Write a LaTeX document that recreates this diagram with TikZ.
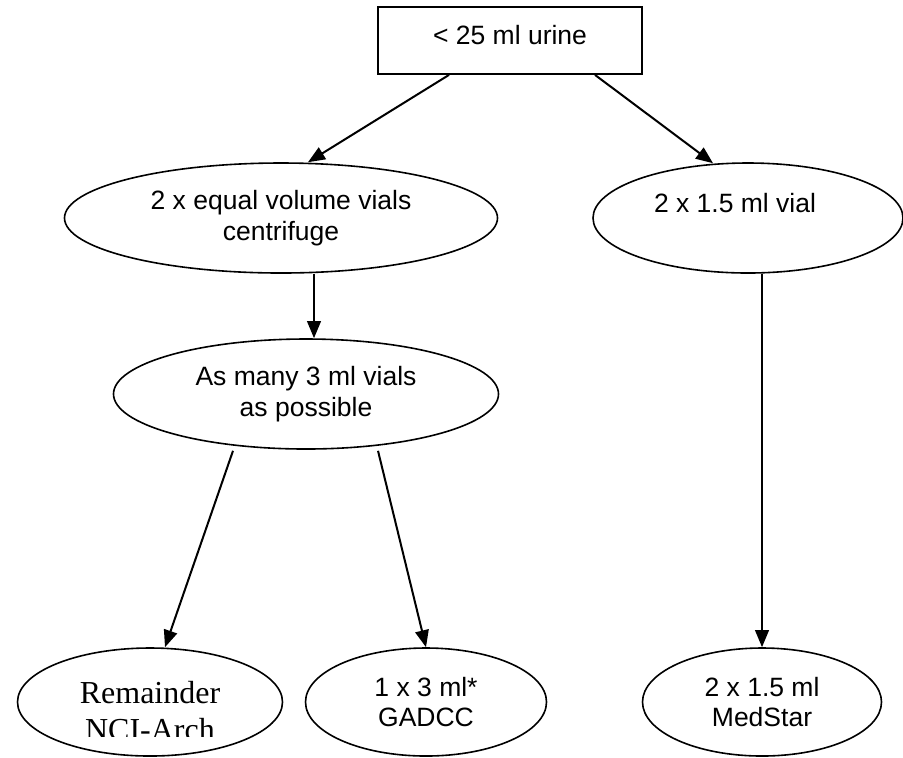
\documentclass[tikz,border=0pt]{standalone}
\usepackage{fontspec}
\setmainfont{Liberation Sans}
\newfontfamily\timesfont{Liberation Serif}
\usetikzlibrary{shapes.geometric,arrows.meta,calc}
\tikzset{
  oval/.style={draw,ellipse,line width=0.8pt,inner sep=0pt,minimum height=55pt,align=center,font=\fontsize{13.25}{15.3}\selectfont},
  flow/.style={line width=1pt,-{Triangle[length=8.5pt,width=6.8pt]}}
}

\begin{document}
\begin{tikzpicture}[x=0.5pt,y=-0.5pt]
\useasboundingbox (0,0) rectangle (903,757);
\node[draw,line width=0.9pt,minimum width=132pt,inner xsep=0pt,inner ysep=0pt,text height=18.7pt,text depth=14.8pt,font=\fontsize{13.25}{15.3}\selectfont] (urine) at (510,40.5) {< 25 ml urine};
\node[oval,minimum width=216.5pt] (split) at (281,218) {2 x equal volume vials\\centrifuge};
\node[oval,minimum width=155pt] (vial) at (748,218) {2 x 1.5 ml vial\hspace*{13pt}\\\phantom{2}};
\node[oval,minimum width=192.5pt] (many) at (306,394) {As many 3 ml vials\\as possible};
\node[oval,minimum width=132.5pt,minimum height=54pt] (remainder) at (150,702) {};
\node[oval,minimum width=120.5pt,minimum height=54pt] (gadcc) at (426,702) {1 x 3 ml*\\GADCC};
\node[oval,minimum width=119.5pt,minimum height=54pt] (medstar) at (762,702) {2 x 1.5 ml\\MedStar};
% serif label, cut off at the bottom as in the source
\begin{scope}
\clip (30,600) rectangle (270,736);
\node[anchor=north,inner sep=0pt,align=center,font=\timesfont\fontsize{16}{18.5}\selectfont] (remText) at (150,681) {Remainder\\NCI-Arch};
\end{scope}
\draw[flow] ($(urine.south)+(-61,0)$) -- ($(split.north)+(27,0)$);
\draw[flow] ($(urine.south)+(85,0)$) -- ($(vial.north)+(-35,1)$);
\draw[flow] ($(split.south)+(33,0)$) -- ($(many.north)+(8,0)$);
\draw[flow] ($(many.south)+(-73,1)$) -- ($(remainder.north)+(15,0)$);
\draw[flow] ($(many.south)+(72,1)$) -- (gadcc.north);
\draw[flow] ($(vial.south)+(14,0)$) -- (medstar.north);
\end{tikzpicture}
\end{document}
